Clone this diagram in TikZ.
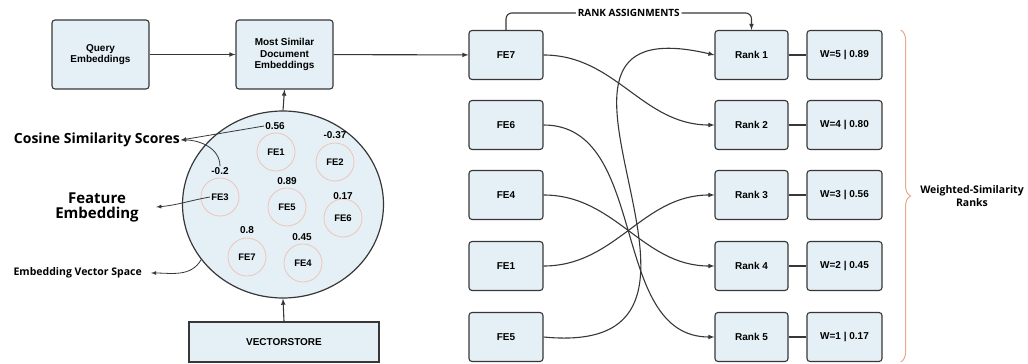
\documentclass[tikz,border=0pt]{standalone}
\usepackage{fontspec}
\setmainfont{Liberation Sans}
\newfontfamily\opensans{Open Sans}
\usepackage{tikz}
\usetikzlibrary{arrows,shapes,decorations.pathreplacing,calc}
\definecolor{boxblue}{RGB}{228,240,246}
\definecolor{boxline}{RGB}{55,55,55}
\definecolor{salmon}{RGB}{240,196,184}
\definecolor{bracecol}{RGB}{232,168,138}
\tikzstyle{blockbox}=[draw=boxline, line width=1.1pt, fill=boxblue, rounded corners=3pt, align=center, font=\fontsize{10}{11.5}\selectfont\bfseries]
\tikzstyle{febox}=[blockbox, minimum width=74pt, minimum height=49pt]
\tikzstyle{fecircle}=[circle, draw=salmon, line width=0.8pt, minimum size=38pt, inner sep=0pt, font=\fontsize{9.5}{11}\selectfont\bfseries]
\tikzstyle{score}=[font=\fontsize{10}{12}\selectfont\bfseries, inner sep=1pt]
\tikzstyle{link}=[draw=boxline, line width=1.1pt, -latex]
\tikzstyle{thinlink}=[draw=boxline, line width=0.8pt, -latex]

\begin{document}
\begin{tikzpicture}[x=1pt,y=-1pt]
	\useasboundingbox (0,0) rectangle (1028,364);
	% query side
	\node[blockbox, minimum width=97pt, minimum height=69pt] (query) at (100.5,54.5) {Query\\Embeddings};
	\node[blockbox, minimum width=97pt, minimum height=69pt] (simdoc) at (284.5,54.5) {Most Similar\\Document\\Embeddings};
	\node[ellipse, draw=boxline, line width=1.2pt, fill=boxblue, minimum width=201pt, minimum height=187pt] (vspace) at (283,204.5) {};
	\node[blockbox, rounded corners=0pt, minimum width=190pt, minimum height=40pt] (vstore) at (284,342) {VECTORSTORE};
	\draw[link] (query) -- (simdoc);
	\draw[link] (vstore.north) -- (vspace.south);
	\draw[link] (vspace.north) -- (simdoc.south);
	% feature embeddings in the vector space
	\node[fecircle] (c1) at (276,152) {FE1};
	\node[fecircle] (c2) at (335,162) {FE2};
	\node[fecircle] (c3) at (220,197) {FE3};
	\node[fecircle] (c5) at (287,207) {FE5};
	\node[fecircle] (c6) at (343,218) {FE6};
	\node[fecircle] (c7) at (247,257) {FE7};
	\node[fecircle] (c4) at (303,263) {FE4};
	\node[score] (s1) at (275,126) {0.56};
	\node[score] (s2) at (335,135) {-0.37};
	\node[score] (s3) at (220,171) {-0.2};
	\node[score] (s5) at (287,181) {0.89};
	\node[score] (s6) at (343,196) {0.17};
	\node[score] (s7) at (247,230) {0.8};
	\node[score] (s4) at (302,237) {0.45};
	% notes on the left
	\node[anchor=east, inner sep=1pt, font=\opensans\bfseries\fontsize{14}{16}\selectfont] (cosine) at (181,140) {Cosine Similarity Scores};
	\node[align=center, font=\opensans\bfseries\fontsize{15}{15}\selectfont] (feature) at (97,207) {Feature\\Embedding};
	\node[anchor=east, inner sep=1pt, font=\opensans\bfseries\fontsize{10.5}{12}\selectfont] (evs) at (143,273) {Embedding Vector Space};
	\draw[thinlink] (s1.west) -- (cosine.east);
	\draw[thinlink] (s3.north) to[out=90,in=0] (cosine.east);
	\draw[thinlink] ([xshift=-10pt]c3.center) to[out=190,in=5] ([xshift=14pt]feature.east);
	\draw[thinlink] (vspace.214) to[out=240,in=0] ([xshift=8pt]evs.east);
	% ranking
	\node[febox] (fe7) at (506,55) {FE7};
	\node[febox] (fe6) at (506,125) {FE6};
	\node[febox] (fe4) at (506,195) {FE4};
	\node[febox] (fe1) at (506,266) {FE1};
	\node[febox] (fe5) at (506,337) {FE5};
	\node[febox, minimum width=73pt] (rank1) at (751.5,55) {Rank 1};
	\node[febox, minimum width=73pt] (rank2) at (751.5,125) {Rank 2};
	\node[febox, minimum width=73pt] (rank3) at (751.5,195) {Rank 3};
	\node[febox, minimum width=73pt] (rank4) at (751.5,266) {Rank 4};
	\node[febox, minimum width=73pt] (rank5) at (751.5,337) {Rank 5};
	\node[febox, minimum width=75pt] (wt1) at (844.5,55) {W=5 | 0.89};
	\node[febox, minimum width=75pt] (wt2) at (844.5,125) {W=4 | 0.80};
	\node[febox, minimum width=75pt] (wt3) at (844.5,195) {W=3 | 0.56};
	\node[febox, minimum width=75pt] (wt4) at (844.5,266) {W=2 | 0.45};
	\node[febox, minimum width=75pt] (wt5) at (844.5,337) {W=1 | 0.17};
	\draw[link] (simdoc) -- (fe7);
	\draw[link, rounded corners=6pt] (fe7.north) -- ++(0,-17) -| node[pos=0.25, fill=white, inner sep=2pt, font=\opensans\bfseries\fontsize{10}{12}\selectfont] (rankassign) {RANK ASSIGNMENTS} (rank1.north);
	\draw[link] (fe7.east) to[out=0,in=180] (rank2.west);
	\draw[link] (fe6.east) to[out=0,in=180] (rank5.west);
	\draw[link] (fe4.east) to[out=0,in=180] (rank4.west);
	\draw[link] (fe1.east) to[out=0,in=180] (rank3.west);
	\draw[link] (fe5.east) .. controls +(237,23) and +(-235,-55) .. (rank1.west);
	\draw[draw=boxline, line width=1.1pt] (rank1) -- (wt1);
	\draw[draw=boxline, line width=1.1pt] (rank2) -- (wt2);
	\draw[draw=boxline, line width=1.1pt] (rank3) -- (wt3);
	\draw[draw=boxline, line width=1.1pt] (rank4) -- (wt4);
	\draw[draw=boxline, line width=1.1pt] (rank5) -- (wt5);
	\draw[bracecol, line width=1pt, decorate, decoration={brace, amplitude=10pt}] ($(wt1.north east)+(18,0)$) -- ($(wt5.south east)+(18,0)$);
	\node[align=center, font=\opensans\bfseries\fontsize{10.5}{13}\selectfont] (wsr) at (972,196) {Weighted-Similarity\\Ranks};
\end{tikzpicture}
\end{document}
